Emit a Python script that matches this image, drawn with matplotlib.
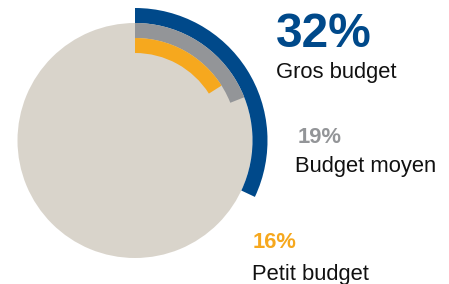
import matplotlib
matplotlib.use("Agg")
import matplotlib.pyplot as plt

# Budget split
labels = ["Gros budget", "Budget moyen", "Petit budget"]
shares = [32, 19, 16]
colors = ["#00498A", "#939598", "#F6A81E"]
bg_color = "#D9D4CB"

plt.rcParams['font.family'] = ['Liberation Sans', 'DejaVu Sans']

fig = plt.figure(figsize=(4.49, 2.84), dpi=100)
ax = fig.add_axes([0, 0, 1, 1])

cx, cy = 135, 143.5
r_base = 117.5
ring = 15

# base disc
ax.pie([1], colors=[bg_color], center=(cx, cy), radius=r_base,
       wedgeprops=dict(linewidth=0))

# rings: biggest share outermost
outer_radii = [r_base + ring, r_base, r_base - ring]
for share, col, r in zip(shares, colors, outer_radii):
    ax.pie([share, 100 - share], colors=[col, "none"], center=(cx, cy),
           radius=r, startangle=90, counterclock=False,
           wedgeprops=dict(width=ring, linewidth=0))

# labels (pixel positions, y measured from the top)
pct_pos = [(276, 47), (298, 143), (253, 248)]
name_pos = [(276, 78), (295, 172), (252, 280)]
pct_size = [34.5, 15.8, 15.8]
for lab, share, col, (px, py), (nx, ny), fs in zip(labels, shares, colors,
                                                    pct_pos, name_pos, pct_size):
    ax.text(px, 284 - py, f"{share}%", color=col, fontsize=fs,
            fontweight="bold", ha="left", va="baseline")
    ax.text(nx, 284 - ny, lab, color="#111111", fontsize=15.8,
            ha="left", va="baseline")

ax.set_xlim(0, 449)
ax.set_ylim(0, 284)
ax.set_aspect("auto")
ax.axis("off")

fig.savefig("out.png", dpi=100)
